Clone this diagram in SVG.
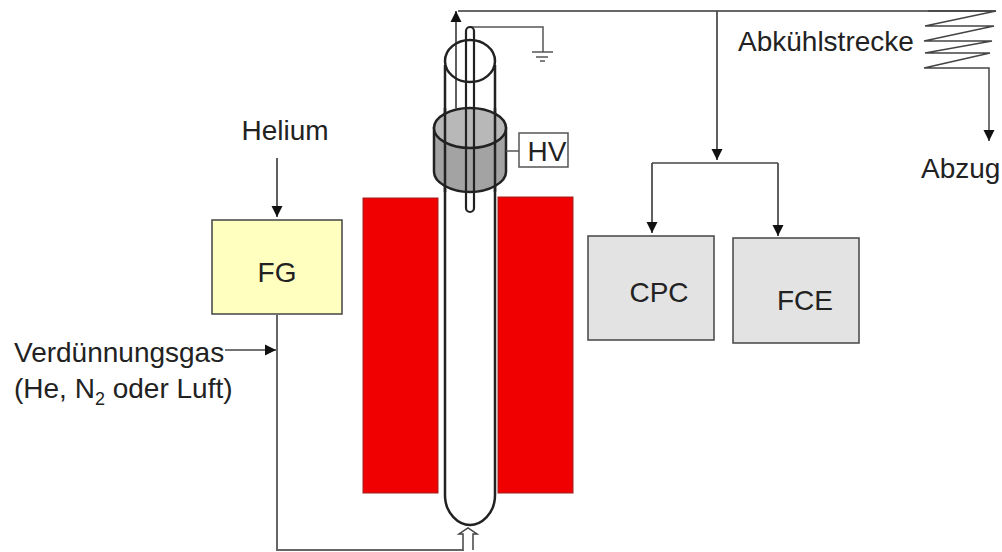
<svg xmlns="http://www.w3.org/2000/svg" width="1002" height="552" viewBox="0 0 1002 552">
<defs>
<marker id="ah" markerUnits="userSpaceOnUse" markerWidth="12" markerHeight="12" refX="11" refY="6" orient="auto"><path d="M0 0.5L11 6L0 11.5Z" fill="#111"/></marker>
</defs>
<style>
text{font-family:"Liberation Sans",Arial,sans-serif;font-size:28px;fill:#222}
.c{fill:none;stroke:#666;stroke-width:2}
.a{fill:none;stroke:#444;stroke-width:1.7}
.t{fill:none;stroke:#222;stroke-width:2.5}
</style>
<rect width="1002" height="552" fill="#fff"/>
<g id="heater-left"><rect x="363" y="198" width="75" height="295" fill="#f00000" stroke="#a02020"/></g>
<g id="heater-right"><rect x="498" y="197" width="75" height="296" fill="#f00000" stroke="#a02020"/></g>
<g id="connectors">
<path class="c" d="M277 315V550H464"/>
<path class="c" d="M458 11H996"/>
<path class="a" d="M456 108V11" marker-end="url(#ah)"/>
<path class="a" d="M277 158V217" marker-end="url(#ah)"/>
<path class="a" d="M225 350H276" marker-end="url(#ah)"/>
<path class="a" d="M717 11V160" marker-end="url(#ah)"/>
<path class="a" d="M652 163H778"/>
<path class="a" d="M652 163V233" marker-end="url(#ah)"/>
<path class="a" d="M778 163V236" marker-end="url(#ah)"/>
<path d="M928 11H996L925 26H994L924 41H992L925 53H990L924 68H989V141" fill="none" stroke="#444" stroke-width="1.5" marker-end="url(#ah)"/>
</g>
<g id="ground"><path d="M470 27H543V52M532 52H553M536 57H548M540 61H545" fill="none" stroke="#555" stroke-width="1.5"/></g>
<g id="tube">
<path d="M445 65V495C445 514 459 525 470 525C481 525 495 514 495 495V65" fill="none" stroke="#222" stroke-width="2.5"/>
<ellipse cx="470" cy="61" rx="25" ry="21" fill="none" stroke="#222" stroke-width="2.5"/>
</g>
<g id="hv-electrode">
<path d="M434 128V172C434 182 450 192 470 192C490 192 506 182 506 172V128Z" fill="#a3a3a3" stroke="#222" stroke-width="2.5"/>
<ellipse cx="470" cy="128" rx="36" ry="20" fill="#b8b8b8" stroke="#222" stroke-width="2.5"/>
<path class="t" d="M445 108V192M495 108V192"/>
</g>
<g id="inner-electrode"><rect x="466" y="27" width="8" height="185" rx="4" fill="none" stroke="#222" stroke-width="2.2"/></g>
<g id="hv"><path d="M506 151H519" fill="none" stroke="#555" stroke-width="1.5"/><rect x="519" y="133" width="49" height="34" fill="#fff" stroke="#555" stroke-width="1.5"/><text x="547" y="161" text-anchor="middle">HV</text></g>
<g id="inlet-arrow"><path d="M463 550V534H459L468 528L477 534H473V550" fill="#fff" stroke="#444" stroke-width="1.5"/></g>
<g id="fg"><rect x="212" y="220" width="130" height="94" fill="#ffffc0" stroke="#444" stroke-width="1.5"/><text x="277" y="282" text-anchor="middle">FG</text></g>
<g id="cpc"><rect x="588" y="236" width="126" height="104" fill="#e3e3e3" stroke="#444" stroke-width="1.5"/><text x="659" y="302" text-anchor="middle">CPC</text></g>
<g id="fce"><rect x="733" y="238" width="126" height="105" fill="#e3e3e3" stroke="#444" stroke-width="1.5"/><text x="805" y="310" text-anchor="middle">FCE</text></g>
<text x="285" y="140" text-anchor="middle">Helium</text>
<text x="738" y="51">Abkühlstrecke</text>
<text x="921" y="178">Abzug</text>
<text x="14" y="362">Verdünnungsgas</text>
<text x="14" y="398">(He, N<tspan dy="7" style="font-size:18px">2</tspan><tspan dy="-7"> oder Luft)</tspan></text>
</svg>
